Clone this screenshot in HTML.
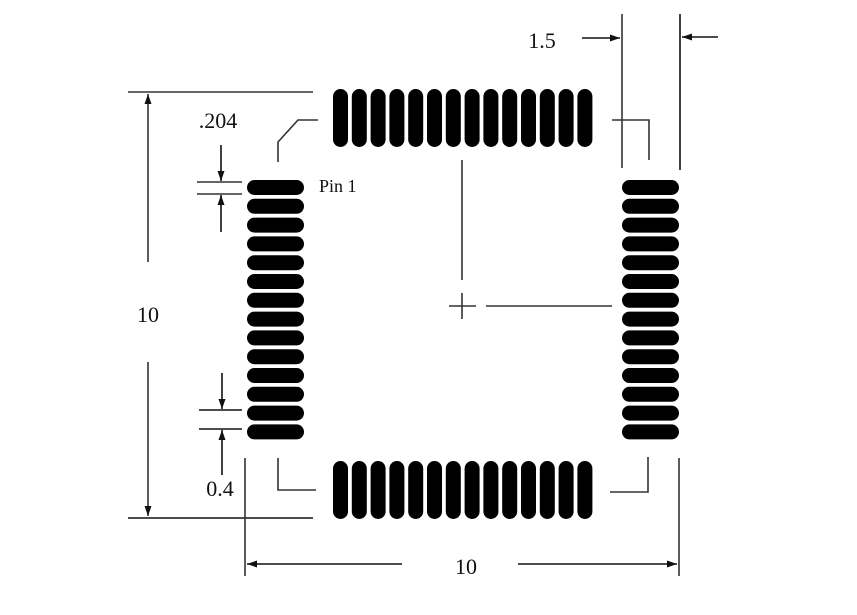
<!DOCTYPE html>
<html><head><meta charset="utf-8"><style>
html,body{margin:0;padding:0;background:#fff;}
svg{display:block;}
text{font-family:"Liberation Serif",serif;fill:#111;}
</style></head><body>
<svg id="fp" width="857" height="615" viewBox="0 0 857 615" xmlns="http://www.w3.org/2000/svg">
<defs>
<marker id="ah" viewBox="0 0 10 10" refX="10" refY="5" markerWidth="11" markerHeight="10" orient="auto-start-reverse" markerUnits="userSpaceOnUse"><path d="M0,1.5 L10,5 L0,8.5 z" fill="#111"/></marker>
</defs>
<g id="pads"></g>
<g stroke="#333" stroke-width="1.6" fill="none">
  <line x1="128" y1="92" x2="313" y2="92"/>
  <line x1="128" y1="518" x2="313" y2="518" stroke="#111"/>
  <line x1="148" y1="262" x2="148" y2="94" marker-end="url(#ah)"/>
  <line x1="148" y1="362" x2="148" y2="516" marker-end="url(#ah)"/>
  <line x1="245" y1="458" x2="245" y2="576"/>
  <line x1="679" y1="458" x2="679" y2="576"/>
  <line x1="402" y1="564" x2="247" y2="564" stroke="#111" marker-end="url(#ah)"/>
  <line x1="518" y1="564" x2="677" y2="564" stroke="#111" marker-end="url(#ah)"/>
  <line x1="622" y1="14" x2="622" y2="168"/>
  <line x1="680" y1="14" x2="680" y2="170" stroke="#111"/>
  <line x1="582" y1="38" x2="620" y2="38" stroke="#111" marker-end="url(#ah)"/>
  <line x1="718" y1="37" x2="682" y2="37" stroke="#111" marker-end="url(#ah)"/>
  <line x1="197" y1="182" x2="242" y2="182"/>
  <line x1="197" y1="194" x2="242" y2="194"/>
  <line x1="221" y1="145" x2="221" y2="181" stroke="#111" marker-end="url(#ah)"/>
  <line x1="221" y1="232" x2="221" y2="195" stroke="#111" marker-end="url(#ah)"/>
  <line x1="199" y1="410" x2="242" y2="410" stroke="#111"/>
  <line x1="199" y1="429" x2="242" y2="429" stroke="#111"/>
  <line x1="222" y1="373" x2="222" y2="409" stroke="#111" marker-end="url(#ah)"/>
  <line x1="222" y1="475" x2="222" y2="430" stroke="#111" marker-end="url(#ah)"/>
  <polyline points="278,162 278,142 298,120 318,120"/>
  <polyline points="612,120 649,120 649,160"/>
  <polyline points="278,458 278,490 316,490"/>
  <polyline points="610,492 648,492 648,457"/>
  <line x1="462" y1="160" x2="462" y2="280"/>
  <line x1="486" y1="306" x2="612" y2="306"/>
  <line x1="449" y1="306" x2="476" y2="306"/>
  <line x1="462" y1="293" x2="462" y2="319"/>
</g>
<text x="148" y="322" font-size="22" text-anchor="middle">10</text>
<text x="466" y="574" font-size="22" text-anchor="middle">10</text>
<text x="542" y="48" font-size="22" text-anchor="middle">1.5</text>
<text x="218" y="128" font-size="22" text-anchor="middle">.204</text>
<text x="220" y="496" font-size="22" text-anchor="middle">0.4</text>
<text x="319" y="192" font-size="18">Pin 1</text>
</svg>
<script>
const padCount = 14;
const padPitch = 18.8;
const padThick = 15;
const rows = ["top", "bottom", "left", "right"];
const g = document.getElementById('pads');
const NS = 'http://www.w3.org/2000/svg';
function addPad(x, y, w, h, side, i) {
  const r = document.createElementNS(NS, 'rect');
  r.setAttribute('x', x); r.setAttribute('y', y);
  r.setAttribute('width', w); r.setAttribute('height', h);
  const rad = Math.min(w, h) / 2;
  r.setAttribute('rx', rad); r.setAttribute('ry', rad);
  r.setAttribute('fill', '#000');
  
  
  g.appendChild(r);
}
rows.forEach(side => {
  for (let i = 0; i < padCount; i++) {
    const o = i * padPitch;
    if (side === 'top') addPad(333 + o, 89, padThick, 58, side, i);
    if (side === 'bottom') addPad(333 + o, 461, padThick, 58, side, i);
    if (side === 'left') addPad(247, 180 + o, 57, padThick, side, i);
    if (side === 'right') addPad(622, 180 + o, 57, padThick, side, i);
  }
});
</script>
</body></html>
